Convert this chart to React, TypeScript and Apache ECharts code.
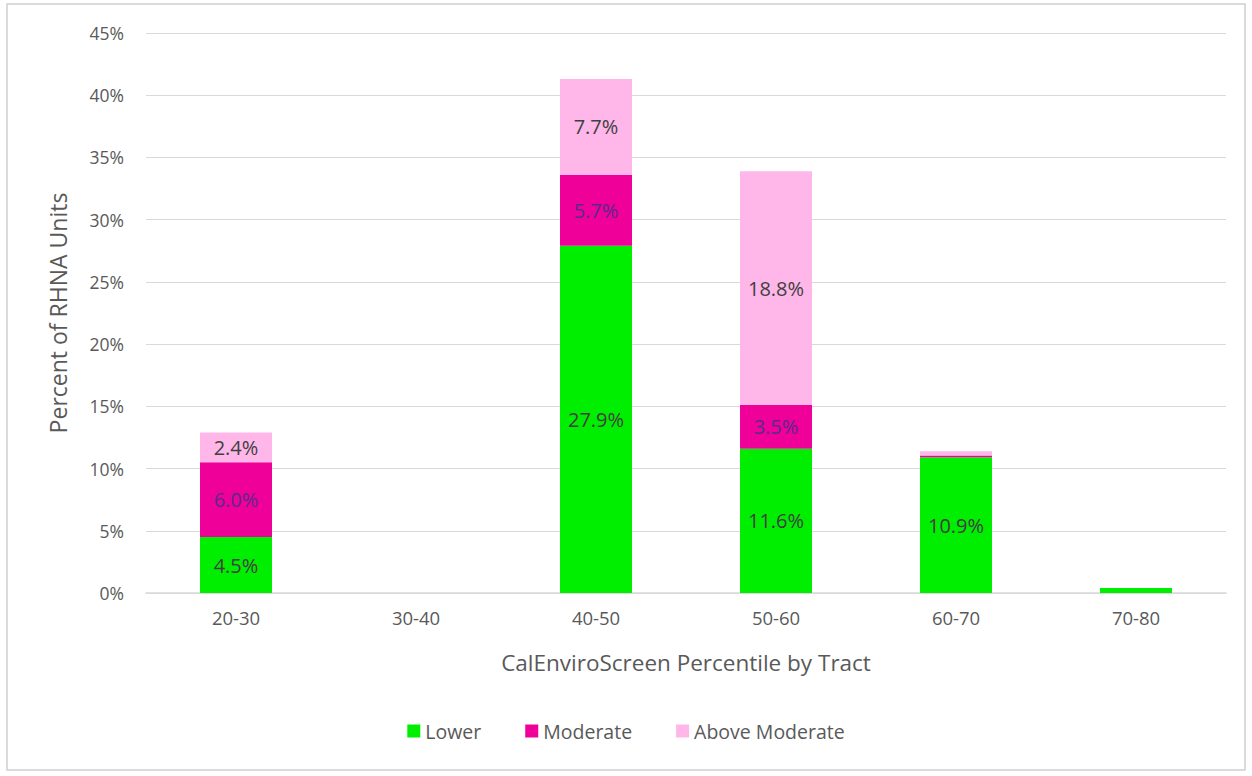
import React, { useEffect, useRef } from "react";
import * as echarts from "echarts";

const categories = ["20-30", "30-40", "40-50", "50-60", "60-70", "70-80"];
const lowerValues = [4.5, 0, 27.9, 11.6, 10.9, 0.4];
const moderateValues = [6.0, 0, 5.7, 3.5, 0.15, 0];
const aboveModerateValues = [2.4, 0, 7.7, 18.8, 0.35, 0];
const yTicks = [0, 5, 10, 15, 20, 25, 30, 35, 40, 45];

const FONT = "'Open Sans', 'Noto Sans', sans-serif";

export default function App() {
  const ref = useRef<HTMLDivElement>(null);
  useEffect(() => {
    if (!ref.current) return;
    const chart = echarts.init(ref.current, null, { renderer: "svg" });
    const label = (min: number) => ({
      show: true,
      position: "inside" as const,
      color: "#404040",
      fontFamily: FONT,
      fontSize: 20,
      formatter: (p: any) => (p.value >= min ? p.value.toFixed(1) + "%" : ""),
    });
    chart.setOption({
      animation: false,
      backgroundColor: "#ffffff",
      grid: { left: 146, right: 26, top: 33, bottom: 183, containLabel: false },
      graphic: [
        {
          type: "rect",
          shape: { x: 7, y: 4, width: 1238, height: 766 },
          style: { fill: "none", stroke: "#d0d0d0", lineWidth: 1.5 },
          silent: true,
        },
      ],
      legend: {
        bottom: 30,
        left: "center",
        itemWidth: 13,
        itemHeight: 13,
        itemGap: 44,
        icon: "rect",
        textStyle: { color: "#595959", fontFamily: FONT, fontSize: 19.5 },
        data: ["Lower", "Moderate", "Above Moderate"],
      },
      xAxis: {
        type: "category",
        data: categories,
        name: "CalEnviroScreen Percentile by Tract",
        nameLocation: "middle",
        nameGap: 58,
        nameTextStyle: { color: "#595959", fontFamily: FONT, fontSize: 22.5 },
        axisLine: { lineStyle: { color: "#d9d9d9", width: 1.5 } },
        axisTick: { show: false },
        axisLabel: { color: "#595959", fontFamily: FONT, fontSize: 18.5, margin: 15 },
      },
      yAxis: {
        type: "value",
        min: 0,
        max: yTicks[yTicks.length - 1],
        interval: 5,
        name: "Percent of RHNA Units",
        nameLocation: "middle",
        nameGap: 77,
        nameTextStyle: { color: "#595959", fontFamily: FONT, fontSize: 23 },
        axisLine: { show: false },
        axisTick: { show: false },
        splitLine: { lineStyle: { color: "#d9d9d9", width: 1 } },
        axisLabel: {
          color: "#595959",
          fontFamily: FONT,
          fontSize: 17.5,
          margin: 22,
          formatter: (v: number) => v + "%",
        },
      },
      series: [
        {
          name: "Lower",
          type: "bar",
          stack: "t",
          barWidth: "40%",
          data: lowerValues,
          itemStyle: { color: "#00ee00" },
          label: label(1),
        },
        {
          name: "Moderate",
          type: "bar",
          stack: "t",
          data: moderateValues,
          itemStyle: { color: "#ee0099" },
          label: { ...label(1), color: "#5a2a8a" },
        },
        {
          name: "Above Moderate",
          type: "bar",
          stack: "t",
          data: aboveModerateValues,
          itemStyle: { color: "#ffb6e8" },
          label: label(1),
        },
      ],
    });
    return () => chart.dispose();
  }, []);
  return (
    <div
      ref={ref}
      style={{ position: "absolute", left: 0, top: 0, width: 1252, height: 776 }}
    />
  );
}
